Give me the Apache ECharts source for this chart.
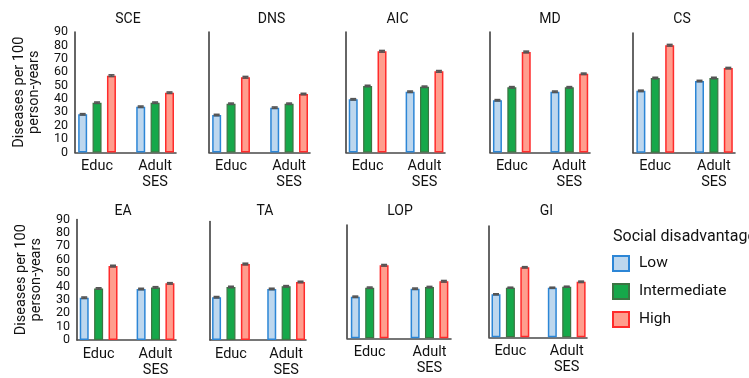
<!DOCTYPE html>
<html>
<head>
<meta charset="utf-8">
<script src="https://cdn.jsdelivr.net/npm/echarts@6/dist/echarts.min.js"></script>
<style>
html,body{margin:0;padding:0;background:#fff;}
#chart{width:749px;height:378px;}
</style>
</head>
<body>
<div id="chart"></div>
<script>
// ---- data ----
const panels = ['SCE', 'DNS', 'AIC', 'MD', 'CS', 'EA', 'TA', 'LOP', 'GI'];
const groups = ['Educ', 'Adult\nSES'];
const levels = ['Low', 'Intermediate', 'High'];
const yMax = 90;
const yStep = 10;
// [Educ, Adult SES] per panel
const low = [[28.5, 34.2], [28.0, 33.5], [39.7, 45.4], [39.0, 45.4], [46.5, 53.9],
             [31.6, 38.1], [32.5, 38.8], [33.0, 39.4], [34.8, 40.1]];
const intermediate = [[37.2, 37.2], [36.4, 36.4], [49.7, 49.1], [48.7, 48.7], [56.2, 56.2],
             [38.5, 39.3], [40.3, 40.8], [40.2, 40.7], [40.1, 40.9]];
const high = [[57.4, 44.7], [56.2, 43.7], [75.6, 60.6], [75.1, 58.8], [80.8, 63.6],
             [55.2, 42.3], [57.7, 44.1], [58.0, 45.3], [56.6, 44.9]];
const lowErr = [[0.5, 0.5], [0.5, 0.5], [0.5, 0.5], [0.5, 0.5], [0.5, 0.5],
             [0.5, 0.5], [0.5, 0.5], [0.5, 0.5], [0.4, 0.4]];
const intermediateErr = [[0.5, 0.5], [0.5, 0.5], [0.5, 0.5], [0.5, 0.5], [0.5, 0.5],
             [0.5, 0.5], [0.5, 0.5], [0.5, 0.5], [0.4, 0.4]];
const highErr = [[0.6, 0.5], [0.6, 0.5], [0.6, 0.6], [0.6, 0.5], [0.6, 0.5],
             [0.6, 0.5], [0.6, 0.5], [0.6, 0.6], [0.5, 0.5]];

// ---- layout / style ----
const layout = [
  {l: 75,  r: 176, t: 32,    b: 152.5, tx: 128,   ty: 12},
  {l: 209, r: 310, t: 32,    b: 152.5, tx: 271.5, ty: 12},
  {l: 346, r: 445, t: 32,    b: 152.5, tx: 397.5, ty: 12},
  {l: 490, r: 590, t: 32,    b: 152.5, tx: 550,   ty: 12},
  {l: 633, r: 735, t: 33,    b: 152.7, tx: 682,   ty: 12},
  {l: 77,  r: 176, t: 219.5, b: 340.5, tx: 123,   ty: 204},
  {l: 210, r: 306, t: 221.5, b: 340.7, tx: 265,   ty: 204},
  {l: 347, r: 451, t: 225,   b: 338.3, tx: 400,   ty: 204},
  {l: 489, r: 587, t: 226,   b: 337.3, tx: 546.5, ty: 204}
];
const styles = [
  {color: '#BDD7EE', borderColor: '#2C86D6', borderWidth: 1.5},
  {color: '#16A84A', borderColor: '#3C7443', borderWidth: 1.2},
  {color: '#FF9E8E', borderColor: '#FF2B2B', borderWidth: 1.5}
];
const BAR_W = 9, GAP = 0.6;
const values = [low, intermediate, high];
const errs = [lowErr, intermediateErr, highErr];
const FONT = 'Roboto';

const grid = [], xAxis = [], yAxis = [], series = [];
const title = [];
panels.forEach((name, i) => {
  const p = layout[i];
  grid.push({left: p.l, top: p.t, width: p.r - p.l, height: p.b - p.t, containLabel: false});
  const first = (i === 0 || i === 5);
  xAxis.push({
    gridIndex: i, type: 'value', min: -0.38, max: 1.36,
    axisLine: {show: true, onZero: false, lineStyle: {color: '#4a4a4a', width: 1.6}},
    axisTick: {show: false}, splitLine: {show: false},
    axisLabel: {customValues: [0, 1], formatter: v => groups[Math.round(v)],
      fontSize: 14.5, lineHeight: 16, color: '#111', margin: 6, fontFamily: FONT}
  });
  yAxis.push({
    gridIndex: i, type: 'value', min: 0, max: yMax, interval: yStep,
    axisLine: {show: true, onZero: false, lineStyle: {color: '#333', width: 1.5}},
    axisTick: {show: false}, splitLine: {show: false},
    axisLabel: {show: first, fontSize: 12.5, color: '#111', margin: 7, padding: [0, 0, 4, 0], fontFamily: FONT},
    name: first ? 'Diseases per 100\nperson-years' : '',
    nameLocation: 'middle', nameGap: 33,
    nameTextStyle: {fontSize: 14.5, lineHeight: 15, color: '#111', fontFamily: FONT}
  });
  title.push({text: name, left: p.tx, top: p.ty, textAlign: 'center', padding: 0,
    textStyle: {fontSize: 14, fontWeight: 'normal', color: '#111', fontFamily: FONT}});
  levels.forEach((lv, k) => {
    series.push({
      type: 'bar', name: lv, xAxisIndex: i, yAxisIndex: i,
      barWidth: BAR_W, barGap: (GAP * 100) + '%',
      itemStyle: styles[k],
      data: groups.map((g, gi) => [gi, values[k][i][gi]])
    });
  });
  const errData = [];
  levels.forEach((lv, k) => groups.forEach((g, gi) => errData.push([gi, values[k][i][gi], errs[k][i][gi], k])));
  series.push({
    type: 'custom', name: 'err', xAxisIndex: i, yAxisIndex: i, z: 10, silent: true,
    data: errData,
    renderItem: (params, api) => {
      const x = api.value(0), v = api.value(1), e = api.value(2), k = api.value(3);
      const pitch = BAR_W * (1 + GAP);
      const top = api.coord([x, v + e]);
      const bot = api.coord([x, v - e]);
      const cx = top[0] + (k - 1) * pitch;
      const st = {stroke: '#555', lineWidth: 1.6};
      return {type: 'group', children: [
        {type: 'line', shape: {x1: cx, y1: top[1], x2: cx, y2: bot[1]}, style: st},
        {type: 'line', shape: {x1: cx - 3, y1: top[1], x2: cx + 3, y2: top[1]}, style: st},
        {type: 'line', shape: {x1: cx - 3, y1: bot[1], x2: cx + 3, y2: bot[1]}, style: st}
      ]};
    }
  });
});
title.push({text: 'Social disadvantage', left: 613, top: 228.5, padding: 0,
  textStyle: {fontSize: 16, fontWeight: 'normal', color: '#111', fontFamily: FONT}});

const chart = echarts.init(document.getElementById('chart'), null, {renderer: 'canvas'});
chart.setOption({
  animation: false,
  backgroundColor: '#fff',
  textStyle: {fontFamily: FONT},
  title: title,
  legend: {
    data: levels, orient: 'vertical', left: 612, top: 255, padding: 0,
    itemWidth: 16, itemHeight: 15, itemGap: 11, icon: 'rect',
    textStyle: {fontSize: 15.5, color: '#111', padding: [0, 0, 0, 5], fontFamily: FONT}
  },
  grid: grid, xAxis: xAxis, yAxis: yAxis, series: series
});
</script>
</body>
</html>
